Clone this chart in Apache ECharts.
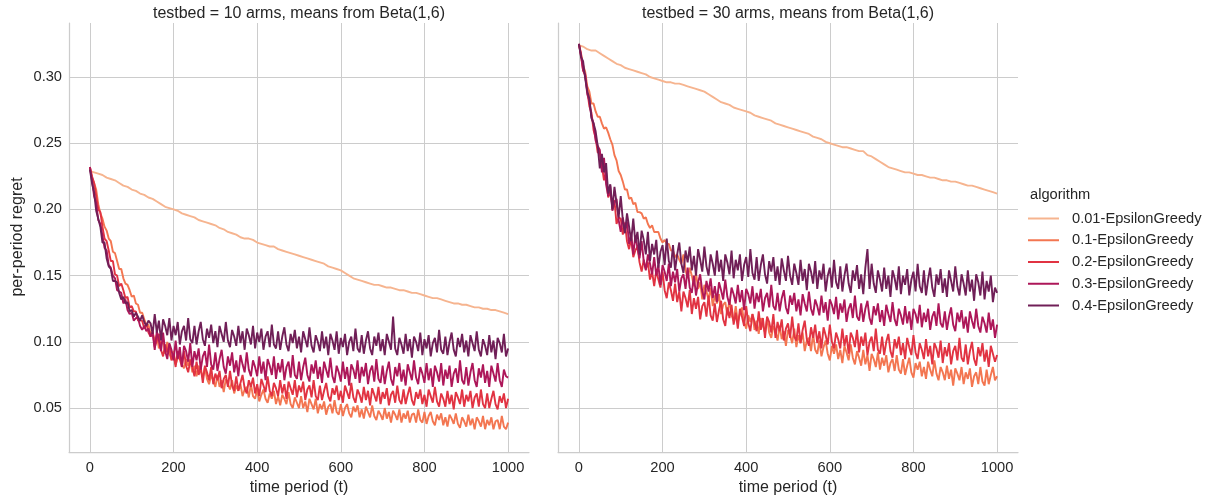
<!DOCTYPE html>
<html><head><meta charset="utf-8">
<script src="https://cdn.jsdelivr.net/npm/echarts@6/dist/echarts.min.js"></script>
<style>html,body{margin:0;padding:0;background:#fff}#c{width:1210px;height:499px}</style>
</head><body><div id="c"></div>
<script>
// time grids (t values)
const T10=[0,10,20,30,40,50,60,70,80,90,100,110,120,130,140,150,160,170,180,190,200,210,220,230,240,250,260,270,280,290,300,310,320,330,340,350,360,370,380,390,400,410,420,430,440,450,460,470,480,490,500,510,520,530,540,550,560,570,580,590,600,610,620,630,640,650,660,670,680,690,700,710,720,730,740,750,760,770,780,790,800,810,820,830,840,850,860,870,880,890,900,910,920,930,940,950,960,970,980,990,1000];
const T5=[0,5,10,15,20,25,30,35,40,45,50,55,60,65,70,75,80,85,90,95,100,105,110,115,120,125,130,135,140,145,150,155,160,165,170,175,180,185,190,195,200,205,210,215,220,225,230,235,240,245,250,255,260,265,270,275,280,285,290,295,300,305,310,315,320,325,330,335,340,345,350,355,360,365,370,375,380,385,390,395,400,405,410,415,420,425,430,435,440,445,450,455,460,465,470,475,480,485,490,495,500,505,510,515,520,525,530,535,540,545,550,555,560,565,570,575,580,585,590,595,600,605,610,615,620,625,630,635,640,645,650,655,660,665,670,675,680,685,690,695,700,705,710,715,720,725,730,735,740,745,750,755,760,765,770,775,780,785,790,795,800,805,810,815,820,825,830,835,840,845,850,855,860,865,870,875,880,885,890,895,900,905,910,915,920,925,930,935,940,945,950,955,960,965,970,975,980,985,990,995,1000];
const algorithms=['0.01-EpsilonGreedy','0.1-EpsilonGreedy','0.2-EpsilonGreedy','0.3-EpsilonGreedy','0.4-EpsilonGreedy'];
const panelTitles=['testbed = 10 arms, means from Beta(1,6)','testbed = 30 arms, means from Beta(1,6)'];
const xTicks=[0,200,400,600,800,1000];
const yTicks=[0.05,0.10,0.15,0.20,0.25,0.30];

// ---- testbed = 10 arms ----
const L001=[0.229,0.228,0.227,0.226,0.224,0.223,0.222,0.220,0.218,0.217,
0.215,0.214,0.212,0.211,0.209,0.208,0.206,0.204,0.202,0.201,
0.200,0.199,0.197,0.196,0.195,0.194,0.192,0.191,0.190,0.189,
0.188,0.186,0.185,0.183,0.182,0.181,0.179,0.178,0.178,0.177,
0.175,0.174,0.173,0.172,0.172,0.170,0.169,0.168,0.167,0.166,
0.165,0.164,0.163,0.162,0.161,0.160,0.159,0.157,0.156,0.155,
0.154,0.152,0.150,0.148,0.147,0.146,0.145,0.144,0.143,0.143,
0.142,0.141,0.141,0.140,0.139,0.139,0.138,0.137,0.137,0.136,
0.135,0.134,0.133,0.133,0.132,0.131,0.130,0.129,0.129,0.128,
0.128,0.127,0.126,0.126,0.125,0.125,0.124,0.124,0.123,0.122,
0.121];
const L01=[0.232,0.224,0.220,0.215,0.204,0.197,0.193,0.187,0.184,0.178,
0.176,0.168,0.167,0.161,0.155,0.155,0.148,0.144,0.143,0.139,
0.134,0.135,0.129,0.128,0.122,0.122,0.117,0.113,0.113,0.106,
0.107,0.101,0.105,0.095,0.099,0.100,0.091,0.100,0.091,0.087,
0.093,0.083,0.088,0.091,0.083,0.080,0.087,0.082,0.087,0.077,
0.082,0.074,0.082,0.078,0.073,0.081,0.072,0.068,0.075,0.071,
0.066,0.075,0.066,0.071,0.062,0.072,0.068,0.064,0.071,0.061,
0.067,0.063,0.068,0.059,0.064,0.066,0.058,0.068,0.059,0.057,
0.064,0.055,0.060,0.064,0.057,0.054,0.061,0.057,0.063,0.053,
0.059,0.052,0.060,0.057,0.053,0.062,0.053,0.050,0.058,0.054,
0.050,0.059,0.050,0.055,0.047,0.057,0.053,0.049,0.057,0.046,
0.053,0.049,0.055,0.045,0.051,0.053,0.046,0.056,0.047,0.045,
0.053,0.044,0.050,0.053,0.046,0.043,0.051,0.047,0.052,0.043,
0.049,0.042,0.051,0.047,0.043,0.052,0.044,0.041,0.048,0.045,
0.041,0.050,0.042,0.047,0.039,0.048,0.045,0.041,0.049,0.039,
0.046,0.042,0.048,0.039,0.045,0.046,0.039,0.049,0.041,0.039,
0.047,0.038,0.044,0.047,0.040,0.037,0.045,0.041,0.046,0.037,
0.043,0.036,0.045,0.042,0.038,0.046,0.038,0.035,0.043,0.040,
0.036,0.045,0.037,0.042,0.034,0.043,0.040,0.036,0.044,0.034,
0.041,0.037,0.043,0.034,0.040,0.041,0.034,0.044,0.036,0.034,
0.039];
const L02=[0.232,0.225,0.220,0.210,0.200,0.198,0.187,0.178,0.176,0.169,
0.161,0.161,0.151,0.150,0.142,0.144,0.139,0.133,0.134,0.126,
0.127,0.123,0.123,0.116,0.116,0.116,0.110,0.114,0.107,0.104,
0.108,0.096,0.101,0.106,0.094,0.089,0.098,0.092,0.098,0.086,
0.091,0.081,0.093,0.087,0.081,0.093,0.082,0.077,0.086,0.081,
0.074,0.085,0.075,0.081,0.069,0.082,0.077,0.071,0.081,0.068,
0.076,0.071,0.078,0.065,0.072,0.075,0.066,0.078,0.067,0.063,
0.074,0.063,0.069,0.075,0.065,0.061,0.071,0.066,0.073,0.061,
0.068,0.059,0.072,0.067,0.062,0.074,0.063,0.059,0.069,0.065,
0.059,0.071,0.061,0.068,0.057,0.070,0.065,0.060,0.071,0.058,
0.067,0.062,0.070,0.056,0.064,0.067,0.058,0.071,0.059,0.056,
0.067,0.056,0.063,0.069,0.059,0.055,0.065,0.060,0.067,0.056,
0.063,0.054,0.067,0.062,0.057,0.069,0.058,0.054,0.064,0.060,
0.054,0.066,0.056,0.063,0.052,0.065,0.060,0.055,0.066,0.053,
0.062,0.057,0.065,0.052,0.060,0.063,0.054,0.067,0.056,0.053,
0.064,0.053,0.060,0.066,0.056,0.052,0.062,0.057,0.064,0.053,
0.060,0.051,0.064,0.059,0.054,0.066,0.055,0.051,0.061,0.057,
0.051,0.063,0.053,0.060,0.049,0.062,0.058,0.053,0.064,0.051,
0.060,0.055,0.063,0.050,0.058,0.061,0.051,0.064,0.053,0.050,
0.061,0.050,0.057,0.063,0.053,0.049,0.059,0.054,0.061,0.050,
0.057];
const L03=[0.232,0.222,0.210,0.205,0.192,0.189,0.180,0.171,0.169,0.158,
0.156,0.150,0.148,0.139,0.138,0.137,0.129,0.132,0.124,0.121,
0.122,0.116,0.118,0.118,0.112,0.109,0.112,0.108,0.110,0.104,
0.107,0.094,0.108,0.101,0.093,0.107,0.093,0.087,0.099,0.094,
0.086,0.101,0.087,0.096,0.081,0.097,0.093,0.085,0.099,0.081,
0.093,0.086,0.095,0.079,0.089,0.093,0.081,0.098,0.083,0.079,
0.092,0.078,0.087,0.094,0.081,0.076,0.089,0.082,0.092,0.077,
0.086,0.074,0.090,0.083,0.077,0.092,0.079,0.074,0.086,0.081,
0.074,0.089,0.076,0.085,0.071,0.087,0.082,0.075,0.089,0.072,
0.084,0.077,0.087,0.071,0.081,0.085,0.073,0.090,0.075,0.072,
0.085,0.071,0.081,0.088,0.075,0.070,0.083,0.076,0.086,0.072,
0.081,0.069,0.085,0.079,0.073,0.088,0.074,0.069,0.082,0.077,
0.070,0.085,0.072,0.081,0.067,0.083,0.079,0.072,0.086,0.069,
0.081,0.074,0.084,0.068,0.078,0.082,0.070,0.087,0.072,0.069,
0.082,0.068,0.078,0.085,0.072,0.067,0.081,0.074,0.084,0.070,
0.079,0.067,0.083,0.077,0.071,0.086,0.073,0.068,0.081,0.076,
0.069,0.084,0.071,0.080,0.066,0.082,0.077,0.070,0.084,0.067,
0.079,0.072,0.082,0.066,0.076,0.080,0.069,0.086,0.071,0.068,
0.081,0.067,0.077,0.084,0.071,0.066,0.080,0.073,0.083,0.069,
0.078,0.066,0.082,0.076,0.070,0.084,0.071,0.066,0.079,0.074,
0.073];
const L04=[0.230,0.220,0.213,0.199,0.193,0.187,0.175,0.175,0.163,0.157,
0.155,0.146,0.146,0.145,0.137,0.132,0.134,0.129,0.130,0.123,
0.124,0.119,0.122,0.119,0.116,0.120,0.115,0.112,0.116,0.114,
0.106,0.121,0.107,0.116,0.101,0.117,0.112,0.105,0.118,0.101,
0.112,0.105,0.115,0.098,0.108,0.112,0.101,0.118,0.102,0.099,
0.112,0.098,0.108,0.115,0.102,0.097,0.110,0.103,0.113,0.099,
0.108,0.096,0.112,0.106,0.100,0.115,0.101,0.096,0.109,0.104,
0.097,0.112,0.099,0.108,0.094,0.110,0.105,0.098,0.112,0.095,
0.107,0.100,0.110,0.094,0.104,0.108,0.096,0.113,0.098,0.095,
0.108,0.094,0.104,0.111,0.098,0.093,0.106,0.099,0.109,0.095,
0.104,0.092,0.108,0.102,0.096,0.111,0.097,0.092,0.105,0.100,
0.093,0.108,0.095,0.104,0.090,0.106,0.101,0.094,0.108,0.091,
0.103,0.096,0.106,0.090,0.100,0.104,0.093,0.110,0.095,0.092,
0.105,0.091,0.101,0.108,0.095,0.090,0.104,0.097,0.107,0.093,
0.102,0.090,0.106,0.100,0.094,0.119,0.095,0.090,0.103,0.098,
0.091,0.106,0.093,0.102,0.088,0.104,0.100,0.093,0.107,0.090,
0.102,0.095,0.105,0.089,0.099,0.103,0.092,0.109,0.094,0.091,
0.104,0.090,0.100,0.107,0.094,0.089,0.103,0.096,0.106,0.092,
0.101,0.089,0.105,0.099,0.093,0.108,0.094,0.089,0.102,0.097,
0.090,0.105,0.092,0.101,0.087,0.103,0.099,0.092,0.106,0.089,
0.095];

// ---- testbed = 30 arms ----
const R001=[0.324,0.323,0.321,0.320,0.320,0.318,0.316,0.314,0.312,0.310,
0.309,0.307,0.306,0.305,0.304,0.303,0.302,0.300,0.299,0.298,
0.297,0.296,0.296,0.295,0.295,0.294,0.293,0.292,0.291,0.290,
0.289,0.287,0.285,0.283,0.281,0.280,0.279,0.277,0.276,0.275,
0.274,0.273,0.271,0.270,0.269,0.268,0.267,0.265,0.264,0.263,
0.262,0.261,0.260,0.259,0.258,0.257,0.255,0.254,0.253,0.251,
0.250,0.249,0.248,0.247,0.247,0.246,0.245,0.244,0.244,0.241,
0.240,0.238,0.236,0.234,0.232,0.231,0.230,0.229,0.228,0.228,
0.227,0.226,0.226,0.225,0.224,0.224,0.223,0.222,0.222,0.221,
0.221,0.220,0.219,0.218,0.218,0.217,0.216,0.215,0.214,0.213,
0.212];
const R01=[0.325,0.318,0.309,0.304,0.293,0.289,0.280,0.280,0.274,0.270,
0.270,0.265,0.261,0.262,0.258,0.253,0.249,0.241,0.237,0.229,
0.226,0.221,0.215,0.215,0.208,0.209,0.204,0.205,0.198,0.198,
0.197,0.193,0.194,0.189,0.186,0.188,0.183,0.183,0.183,0.178,
0.175,0.177,0.174,0.174,0.169,0.169,0.164,0.166,0.162,0.159,
0.166,0.154,0.148,0.156,0.150,0.142,0.152,0.140,0.145,0.132,
0.143,0.138,0.132,0.141,0.127,0.135,0.129,0.136,0.121,0.128,
0.130,0.120,0.132,0.120,0.116,0.127,0.115,0.121,0.126,0.115,
0.110,0.120,0.115,0.121,0.109,0.116,0.106,0.118,0.112,0.107,
0.118,0.107,0.103,0.112,0.108,0.101,0.112,0.102,0.108,0.097,
0.109,0.105,0.099,0.110,0.096,0.105,0.099,0.107,0.093,0.101,
0.103,0.093,0.106,0.094,0.091,0.101,0.089,0.096,0.101,0.091,
0.086,0.097,0.091,0.098,0.087,0.094,0.084,0.097,0.092,0.086,
0.098,0.088,0.083,0.093,0.088,0.082,0.094,0.083,0.090,0.078,
0.091,0.087,0.081,0.092,0.079,0.088,0.082,0.090,0.077,0.084,
0.087,0.078,0.090,0.079,0.076,0.087,0.075,0.082,0.088,0.077,
0.073,0.084,0.079,0.085,0.074,0.081,0.072,0.085,0.079,0.074,
0.086,0.076,0.071,0.081,0.077,0.071,0.082,0.072,0.079,0.067,
0.080,0.076,0.071,0.081,0.068,0.077,0.072,0.080,0.066,0.074,
0.077,0.068,0.081,0.070,0.067,0.079,0.068,0.075,0.081,0.071,
0.074];
const R02=[0.325,0.316,0.305,0.301,0.290,0.278,0.273,0.260,0.254,0.243,
0.243,0.233,0.222,0.228,0.209,0.213,0.203,0.207,0.189,0.194,
0.193,0.181,0.190,0.176,0.170,0.178,0.164,0.169,0.172,0.160,
0.153,0.162,0.155,0.160,0.147,0.153,0.142,0.154,0.147,0.141,
0.153,0.139,0.133,0.145,0.139,0.131,0.144,0.130,0.138,0.123,
0.138,0.133,0.126,0.139,0.121,0.133,0.125,0.134,0.117,0.127,
0.130,0.119,0.135,0.120,0.116,0.129,0.115,0.124,0.131,0.117,
0.112,0.126,0.118,0.128,0.113,0.122,0.110,0.125,0.119,0.112,
0.127,0.114,0.108,0.121,0.115,0.108,0.123,0.109,0.118,0.103,
0.119,0.115,0.107,0.121,0.103,0.115,0.108,0.117,0.101,0.110,
0.114,0.103,0.119,0.104,0.101,0.114,0.099,0.109,0.116,0.102,
0.097,0.111,0.103,0.113,0.099,0.108,0.095,0.111,0.105,0.098,
0.113,0.100,0.095,0.107,0.102,0.095,0.110,0.097,0.105,0.091,
0.107,0.103,0.096,0.109,0.092,0.104,0.097,0.107,0.090,0.100,
0.104,0.093,0.110,0.094,0.091,0.104,0.090,0.100,0.106,0.093,
0.088,0.102,0.095,0.104,0.090,0.099,0.087,0.103,0.096,0.090,
0.105,0.092,0.087,0.099,0.094,0.087,0.102,0.089,0.097,0.083,
0.099,0.095,0.088,0.101,0.084,0.096,0.089,0.099,0.083,0.093,
0.097,0.086,0.103,0.088,0.085,0.098,0.083,0.093,0.100,0.087,
0.082,0.096,0.089,0.099,0.085,0.094,0.081,0.097,0.091,0.085,
0.090];
const R03=[0.325,0.317,0.305,0.302,0.287,0.282,0.270,0.265,0.252,0.248,
0.245,0.228,0.239,0.219,0.210,0.218,0.199,0.205,0.208,0.192,
0.183,0.194,0.184,0.191,0.174,0.181,0.166,0.180,0.171,0.163,
0.176,0.161,0.154,0.166,0.159,0.151,0.164,0.150,0.158,0.143,
0.158,0.153,0.146,0.159,0.142,0.153,0.145,0.155,0.138,0.148,
0.151,0.140,0.156,0.141,0.137,0.150,0.135,0.145,0.151,0.138,
0.132,0.146,0.138,0.148,0.133,0.142,0.130,0.145,0.139,0.132,
0.147,0.134,0.128,0.141,0.136,0.129,0.143,0.130,0.139,0.124,
0.140,0.136,0.129,0.142,0.125,0.137,0.130,0.140,0.123,0.133,
0.137,0.126,0.143,0.127,0.124,0.137,0.123,0.133,0.139,0.126,
0.121,0.135,0.128,0.137,0.123,0.132,0.120,0.136,0.129,0.123,
0.138,0.125,0.120,0.132,0.127,0.120,0.135,0.122,0.130,0.116,
0.132,0.128,0.121,0.134,0.117,0.129,0.122,0.132,0.115,0.125,
0.129,0.118,0.135,0.119,0.116,0.129,0.115,0.125,0.131,0.118,
0.113,0.127,0.120,0.129,0.115,0.124,0.112,0.128,0.121,0.115,
0.130,0.117,0.112,0.125,0.120,0.113,0.127,0.114,0.123,0.109,
0.125,0.121,0.114,0.128,0.111,0.122,0.115,0.125,0.109,0.119,
0.123,0.112,0.129,0.114,0.111,0.123,0.109,0.119,0.126,0.113,
0.108,0.122,0.115,0.124,0.110,0.119,0.107,0.123,0.116,0.110,
0.125,0.112,0.107,0.119,0.114,0.107,0.122,0.109,0.117,0.103,
0.113];
const R04=[0.325,0.315,0.312,0.299,0.289,0.284,0.269,0.265,0.259,0.248,
0.231,0.242,0.228,0.235,0.212,0.219,0.200,0.217,0.205,0.194,
0.210,0.192,0.182,0.197,0.187,0.176,0.193,0.175,0.183,0.166,
0.184,0.177,0.166,0.183,0.161,0.174,0.166,0.177,0.156,0.168,
0.173,0.158,0.178,0.161,0.156,0.173,0.154,0.166,0.175,0.159,
0.152,0.169,0.160,0.172,0.154,0.165,0.150,0.170,0.162,0.153,
0.172,0.157,0.150,0.166,0.159,0.150,0.169,0.153,0.162,0.146,
0.166,0.160,0.151,0.169,0.148,0.162,0.154,0.166,0.146,0.158,
0.164,0.149,0.170,0.152,0.147,0.164,0.146,0.158,0.166,0.151,
0.144,0.161,0.153,0.164,0.146,0.157,0.143,0.163,0.154,0.146,
0.165,0.150,0.143,0.159,0.152,0.143,0.162,0.146,0.155,0.139,
0.159,0.153,0.144,0.161,0.140,0.154,0.147,0.159,0.138,0.150,
0.156,0.141,0.162,0.145,0.140,0.157,0.138,0.150,0.159,0.144,
0.137,0.154,0.146,0.158,0.140,0.151,0.136,0.156,0.170,0.140,
0.159,0.144,0.137,0.154,0.147,0.138,0.156,0.140,0.150,0.134,
0.154,0.148,0.139,0.157,0.136,0.150,0.143,0.155,0.135,0.147,
0.153,0.138,0.159,0.142,0.137,0.154,0.135,0.147,0.156,0.141,
0.134,0.151,0.143,0.155,0.137,0.148,0.134,0.154,0.146,0.138,
0.157,0.142,0.135,0.151,0.144,0.135,0.154,0.138,0.147,0.131,
0.151,0.145,0.135,0.153,0.132,0.146,0.138,0.150,0.130,0.141,
0.137];

const colors=['#f6b48f','#f37651','#e13342','#ad1759','#701f57'];
const FONT='"Liberation Sans", Arial, sans-serif';
const TXT='#262626';
const GRIDC='#cccccc';
const panels=[[L001,L01,L02,L03,L04],[R001,R01,R02,R03,R04]];
const gridBoxes=[{left:69,top:23,width:460,height:429},{left:558,top:23,width:460,height:429}];

const chart=echarts.init(document.getElementById('c'),null,{renderer:'canvas'});
const xAxes=[],yAxes=[],series=[];
[0,1].forEach(p=>{
  xAxes.push({type:'value',gridIndex:p,min:-50,max:1050,
    axisLine:{show:true,onZero:false,lineStyle:{color:GRIDC,width:1.25}},
    axisTick:{show:false,customValues:xTicks},
    axisLabel:{customValues:xTicks,formatter:v=>String(v),color:TXT,fontSize:14.67,fontFamily:FONT,margin:8},
    splitLine:{show:true,lineStyle:{color:GRIDC,width:1}}});
  yAxes.push({type:'value',gridIndex:p,min:0.0168,max:0.3408,
    axisLine:{show:true,onZero:false,lineStyle:{color:GRIDC,width:1.25}},
    axisTick:{show:false,customValues:yTicks},
    axisLabel:{show:p===0,customValues:yTicks,formatter:v=>v.toFixed(2),color:TXT,fontSize:14.67,fontFamily:FONT,margin:7},
    splitLine:{show:true,lineStyle:{color:GRIDC,width:1}}});
  panels[p].forEach((arr,k)=>{
    const ts = arr.length===T10.length ? T10 : T5;
    series.push({type:'line',name:algorithms[k],xAxisIndex:p,yAxisIndex:p,
      data:ts.map((t,j)=>[t,arr[j]]),symbol:'none',showSymbol:false,silent:true,
      lineStyle:{width:1.9,color:colors[k]},itemStyle:{color:colors[k]},z:2+k});
  });
});

chart.setOption({
  animation:false,
  backgroundColor:'#ffffff',
  grid:gridBoxes,
  xAxis:xAxes,
  yAxis:yAxes,
  series:series,
  legend:{data:algorithms,orient:'vertical',left:1022,top:206,itemWidth:31,itemHeight:14,itemGap:6.75,
    itemStyle:{opacity:0},lineStyle:{width:2},selectedMode:false,
    textStyle:{color:TXT,fontSize:14.67,fontFamily:FONT,padding:[0,0,0,8]}},
  graphic:[
    {type:'text',x:299,y:14,style:{text:panelTitles[0],fill:TXT,font:'16px "Liberation Sans", Arial, sans-serif',textAlign:'center',textVerticalAlign:'middle'}},
    {type:'text',x:788,y:14,style:{text:panelTitles[1],fill:TXT,font:'16px "Liberation Sans", Arial, sans-serif',textAlign:'center',textVerticalAlign:'middle'}},
    {type:'text',x:299,y:488,style:{text:'time period (t)',fill:TXT,font:'16px "Liberation Sans", Arial, sans-serif',textAlign:'center',textVerticalAlign:'middle'}},
    {type:'text',x:788,y:488,style:{text:'time period (t)',fill:TXT,font:'16px "Liberation Sans", Arial, sans-serif',textAlign:'center',textVerticalAlign:'middle'}},
    {type:'text',x:18,y:237,rotation:Math.PI/2,style:{text:'per-period regret',fill:TXT,font:'16px "Liberation Sans", Arial, sans-serif',textAlign:'center',textVerticalAlign:'middle'}},
    {type:'text',x:1030,y:195,style:{text:'algorithm',fill:TXT,font:'14.67px "Liberation Sans", Arial, sans-serif',textAlign:'left',textVerticalAlign:'middle'}}
  ]
});
</script></body></html>
